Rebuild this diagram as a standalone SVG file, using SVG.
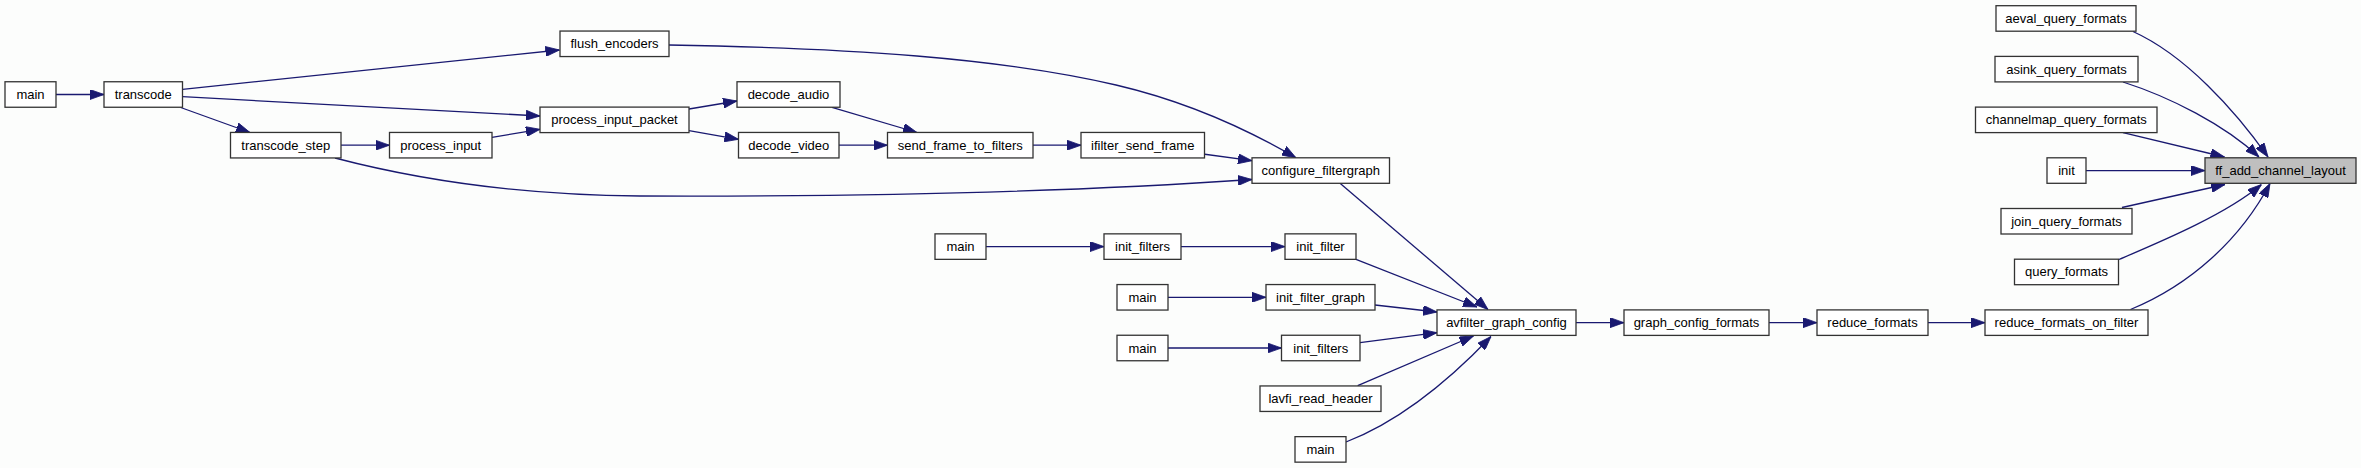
<svg xmlns="http://www.w3.org/2000/svg" width="2361" height="468" viewBox="0 0 2361 468">
<style>
.node rect{fill:#ffffff;stroke:#333333;stroke-width:1.3}
.node rect.hl{fill:#bfbfbf}
.node text{font-family:"Liberation Sans",Arial,sans-serif;font-size:13px;text-anchor:middle;fill:#000000}
.edge{fill:none;stroke:#191970;stroke-width:1.3;marker-end:url(#arr)}
</style>
<defs>
<marker id="arr" markerUnits="userSpaceOnUse" markerWidth="14" markerHeight="10" refX="14" refY="5" orient="auto">
<path d="M0,0 L14,5 L0,10 z" fill="#191970" stroke="#191970" stroke-width="0.8"/>
</marker>
</defs>
<rect x="0" y="0" width="2361" height="468" fill="#fcfdfc"/>
<g id="edges">
<path class="edge" d="M56,94.5 L104,94.5"/>
<path class="edge" d="M182.5,89.3 L559.5,50"/>
<path class="edge" d="M182.5,96.7 L540,116"/>
<path class="edge" d="M180.7,107.5 L250,132.5"/>
<path class="edge" d="M341,145.2 L389.5,145.2"/>
<path class="edge" d="M492,137.3 L540,129.3"/>
<path class="edge" d="M689,109 L737,101"/>
<path class="edge" d="M689,130.7 L738.5,139.3"/>
<path class="edge" d="M832,107.3 L917,132.5"/>
<path class="edge" d="M839,145.2 L887.5,145.2"/>
<path class="edge" d="M1033,145.2 L1081,145.2"/>
<path class="edge" d="M1203,154 L1252,160.7"/>
<path class="edge" d="M669,45 C850,48 1000,58 1116,85 C1180,100 1240,125 1296,157.8"/>
<path class="edge" d="M335,158 C400,175 500,195 640,196 C900,197 1100,190 1252,179.5"/>
<path class="edge" d="M1340,183.3 L1488,309.5"/>
<path class="edge" d="M986,246.6 L1104,246.6"/>
<path class="edge" d="M1181,246.6 L1285,246.6"/>
<path class="edge" d="M1356,259.3 L1477,307"/>
<path class="edge" d="M1168,297.3 L1266,297.3"/>
<path class="edge" d="M1375,305 L1437,312"/>
<path class="edge" d="M1168,348 L1281.5,348"/>
<path class="edge" d="M1360,342.7 L1437,332.7"/>
<path class="edge" d="M1357.7,385.7 L1473.5,336"/>
<path class="edge" d="M1346,442 C1390,425 1440,390 1491,336.5"/>
<path class="edge" d="M1576,322.65 L1624,322.65"/>
<path class="edge" d="M1769,322.65 L1817,322.65"/>
<path class="edge" d="M1928,322.65 L1985,322.65"/>
<path class="edge" d="M2130.5,309.5 C2190,285 2240,240 2270,183.5"/>
<path class="edge" d="M2119,259.5 C2160,242 2225,215 2261.5,184.5"/>
<path class="edge" d="M2122,207.5 L2225,184.5"/>
<path class="edge" d="M2086,170.55 L2205,170.55"/>
<path class="edge" d="M2123,132.7 L2224.5,157"/>
<path class="edge" d="M2123,82 C2170,97 2225,125 2259,157"/>
<path class="edge" d="M2133,31.5 C2185,55 2235,110 2268,157"/>
</g>
<g id="n_main1" class="node"><rect x="5" y="81.75" width="51" height="25.5"/><text x="30.5" y="99">main</text></g>
<g id="n_transcode" class="node"><rect x="104" y="81.75" width="78.5" height="25.5"/><text x="143.25" y="99">transcode</text></g>
<g id="n_flush_encoders" class="node"><rect x="560" y="31.05" width="109" height="25.5"/><text x="614.5" y="48.3">flush_encoders</text></g>
<g id="n_process_input_packet" class="node"><rect x="540" y="107.1" width="149" height="25.5"/><text x="614.5" y="124.35">process_input_packet</text></g>
<g id="n_transcode_step" class="node"><rect x="230.5" y="132.45" width="110.5" height="25.5"/><text x="285.75" y="149.7">transcode_step</text></g>
<g id="n_process_input" class="node"><rect x="389.5" y="132.45" width="102.5" height="25.5"/><text x="440.75" y="149.7">process_input</text></g>
<g id="n_decode_audio" class="node"><rect x="737" y="81.75" width="103" height="25.5"/><text x="788.5" y="99">decode_audio</text></g>
<g id="n_decode_video" class="node"><rect x="738.5" y="132.45" width="100.5" height="25.5"/><text x="788.75" y="149.7">decode_video</text></g>
<g id="n_send_frame_to_filters" class="node"><rect x="887.5" y="132.45" width="145.5" height="25.5"/><text x="960.25" y="149.7">send_frame_to_filters</text></g>
<g id="n_ifilter_send_frame" class="node"><rect x="1081" y="132.45" width="123.5" height="25.5"/><text x="1142.75" y="149.7">ifilter_send_frame</text></g>
<g id="n_configure_filtergraph" class="node"><rect x="1252" y="157.8" width="137.5" height="25.5"/><text x="1320.75" y="175.05">configure_filtergraph</text></g>
<g id="n_main2" class="node"><rect x="935" y="233.85" width="51" height="25.5"/><text x="960.5" y="251.1">main</text></g>
<g id="n_init_filters1" class="node"><rect x="1104" y="233.85" width="77" height="25.5"/><text x="1142.5" y="251.1">init_filters</text></g>
<g id="n_init_filter" class="node"><rect x="1285" y="233.85" width="71" height="25.5"/><text x="1320.5" y="251.1">init_filter</text></g>
<g id="n_main3" class="node"><rect x="1117" y="284.55" width="51" height="25.5"/><text x="1142.5" y="301.8">main</text></g>
<g id="n_init_filter_graph" class="node"><rect x="1266" y="284.55" width="109" height="25.5"/><text x="1320.5" y="301.8">init_filter_graph</text></g>
<g id="n_main4" class="node"><rect x="1117" y="335.25" width="51" height="25.5"/><text x="1142.5" y="352.5">main</text></g>
<g id="n_init_filters2" class="node"><rect x="1281.5" y="335.25" width="78.5" height="25.5"/><text x="1320.75" y="352.5">init_filters</text></g>
<g id="n_lavfi_read_header" class="node"><rect x="1260" y="385.95" width="121" height="25.5"/><text x="1320.5" y="403.2">lavfi_read_header</text></g>
<g id="n_main5" class="node"><rect x="1295" y="436.65" width="51" height="25.5"/><text x="1320.5" y="453.9">main</text></g>
<g id="n_avfilter_graph_config" class="node"><rect x="1437" y="309.9" width="139" height="25.5"/><text x="1506.5" y="327.15">avfilter_graph_config</text></g>
<g id="n_graph_config_formats" class="node"><rect x="1624" y="309.9" width="145" height="25.5"/><text x="1696.5" y="327.15">graph_config_formats</text></g>
<g id="n_reduce_formats" class="node"><rect x="1817" y="309.9" width="111" height="25.5"/><text x="1872.5" y="327.15">reduce_formats</text></g>
<g id="n_reduce_formats_on_filter" class="node"><rect x="1985" y="309.9" width="163" height="25.5"/><text x="2066.5" y="327.15">reduce_formats_on_filter</text></g>
<g id="n_aeval_query_formats" class="node"><rect x="1996" y="5.7" width="140" height="25.5"/><text x="2066" y="22.95">aeval_query_formats</text></g>
<g id="n_asink_query_formats" class="node"><rect x="1995" y="56.4" width="143" height="25.5"/><text x="2066.5" y="73.65">asink_query_formats</text></g>
<g id="n_channelmap_query_formats" class="node"><rect x="1975.5" y="107.1" width="181.5" height="25.5"/><text x="2066.25" y="124.35">channelmap_query_formats</text></g>
<g id="n_init" class="node"><rect x="2047" y="157.8" width="39" height="25.5"/><text x="2066.5" y="175.05">init</text></g>
<g id="n_join_query_formats" class="node"><rect x="2001" y="208.5" width="131" height="25.5"/><text x="2066.5" y="225.75">join_query_formats</text></g>
<g id="n_query_formats" class="node"><rect x="2014.5" y="259.2" width="104" height="25.5"/><text x="2066.5" y="276.45">query_formats</text></g>
<g id="n_ff_add_channel_layout" class="node"><rect class="hl" x="2205" y="157.8" width="151" height="25.5"/><text x="2280.5" y="175.05">ff_add_channel_layout</text></g>
</svg>
